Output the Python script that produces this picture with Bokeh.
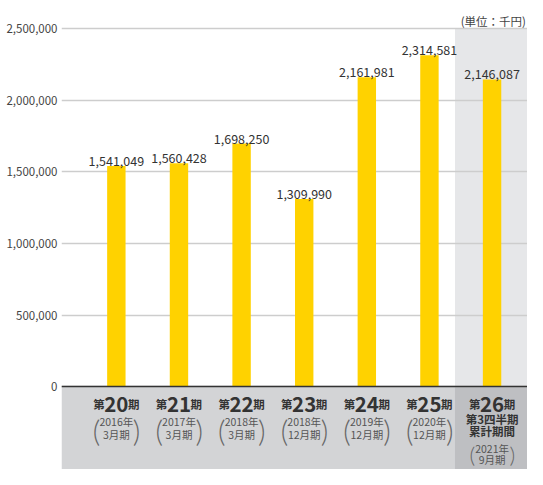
from bokeh.plotting import figure
from bokeh.models import ColumnDataSource, Range1d, FixedTicker, NumeralTickFormatter, Span
from bokeh.core.properties import value
from bokeh.embed import file_html
from bokeh.resources import INLINE

# ---- data ----
period_nums = ["20", "21", "22", "23", "24", "25", "26"]
extra_lines = [[], [], [], [], [], [], ["第3四半期", "累計期間"]]
sub_years = ["2016年", "2017年", "2018年", "2018年", "2019年", "2020年", "2021年"]
sub_months = ["3月期", "3月期", "3月期", "12月期", "12月期", "12月期", "9月期"]
sales = [1541049, 1560428, 1698250, 1309990, 2161981, 2314581, 2146087]
y_ticks = [0, 500000, 1000000, 1500000, 2000000, 2500000]
unit_label = "(単位：千円)"

F = "Noto Sans CJK JP"
YELLOW = "#FFD200"
DARK = "#333333"
SUB = "#555555"

xs = list(range(len(period_nums)))
x_start, x_end = -0.876, 6.566
y_start, y_end = -579200, 2697800
hl_left = xs[-1] - 0.592  # highlighted (latest) column

p = figure(width=527, height=469, output_backend="svg", toolbar_location=None,
           x_range=Range1d(x_start, x_end), y_range=Range1d(y_start, y_end),
           x_axis_location=None, min_border_left=61, min_border_right=0,
           min_border_top=0, min_border_bottom=0)
p.outline_line_color = None
p.background_fill_color = "white"
p.border_fill_color = "white"

# backgrounds
p.quad(left=[hl_left], right=[x_end], bottom=[0], top=[y_ticks[-1]],
       fill_color="#E6E7E9", line_color=None, level="image")
p.quad(left=[x_start], right=[x_end], bottom=[y_start], top=[0],
       fill_color="#D3D4D6", line_color=None, level="image")
p.quad(left=[hl_left], right=[x_end], bottom=[y_start], top=[0],
       fill_color="#BEBFC2", line_color=None, level="image")

# axis and grid
yax = p.yaxis[0]
yax.ticker = FixedTicker(ticks=y_ticks)
yax.formatter = NumeralTickFormatter(format="0,0")
yax.axis_line_color = None
yax.major_tick_line_color = None
yax.minor_tick_line_color = None
yax.major_tick_in = 0
yax.major_tick_out = 0
yax.major_label_standoff = 4
yax.major_label_text_font = F
yax.major_label_text_font_size = "11.5px"
yax.major_label_text_color = "#444444"
p.xgrid.visible = False
p.ygrid.ticker = FixedTicker(ticks=y_ticks)
p.ygrid.grid_line_color = "#CDCDCD"
p.ygrid.grid_line_width = 1.5
p.add_layout(Span(location=0, dimension="width", line_color=DARK, line_width=1.5))

# bars
src = ColumnDataSource(dict(x=xs, v=sales, lab=[f"{v:,}" for v in sales]))
p.vbar(x="x", top="v", bottom=0, width=0.294, source=src, fill_color=YELLOW, line_color=None)
p.text(x="x", y="v", text="lab", source=src, text_align="center", text_baseline="alphabetic",
       y_offset=-5, text_font=value(F), text_font_size="12.5px", text_color=DARK)

# category labels
zeros = [0] * len(xs)
main_src = ColumnDataSource(dict(x=xs, y=zeros, num=period_nums,
                                 dai=["第"] * len(xs), ki=["期"] * len(xs)))
p.text(x="x", y="y", text="num", source=main_src, text_align="center", y_offset=25.5,
       text_font=value(F), text_font_style="bold", text_font_size="20.5px", text_color=DARK)
p.text(x="x", y="y", text="dai", source=main_src, text_align="right", x_offset=-11.6, y_offset=25.5,
       text_font=value(F), text_font_style="bold", text_font_size="11.5px", text_color=DARK)
p.text(x="x", y="y", text="ki", source=main_src, text_align="left", x_offset=11.6, y_offset=25.5,
       text_font=value(F), text_font_style="bold", text_font_size="11.5px", text_color=DARK)

ex_x, ex_t, ex_off = [], [], []
yr_off, mo_off, par_off, par_size = [], [], [], []
for i, lines in enumerate(extra_lines):
    for j, t in enumerate(lines):
        ex_x.append(xs[i]); ex_t.append(t); ex_off.append(40.3 + 11.6 * j)
    shift = 13.2 * len(lines)
    yr_off.append(42.6 + shift)
    mo_off.append(55.5 + shift - (2.0 if lines else 0))
    par_off.append(43.8 + shift - (2.5 if lines else 0))
    par_size.append("22px" if lines else "29px")
ex_src = ColumnDataSource(dict(x=ex_x, y=[0] * len(ex_x), t=ex_t, off=ex_off))
p.text(x="x", y="y", text="t", source=ex_src, text_align="center", y_offset="off",
       text_font=value(F), text_font_style="bold", text_font_size="11.5px", text_color=DARK)

sub_src = ColumnDataSource(dict(x=xs, y=zeros, yr=sub_years, mo=sub_months,
                                yo=yr_off, mo_o=mo_off, po=par_off, ps=par_size,
                                lp=["("] * len(xs), rp=[")"] * len(xs)))
p.text(x="x", y="y", text="yr", source=sub_src, text_align="center", y_offset="yo",
       text_font=value(F), text_font_size="10.5px", text_color=SUB)
p.text(x="x", y="y", text="mo", source=sub_src, text_align="center", y_offset="mo_o",
       text_font=value(F), text_font_size="10.5px", text_color=SUB)
p.text(x="x", y="y", text="lp", source=sub_src, text_align="center", text_baseline="middle",
       x_offset=-19.8, y_offset="po", text_font=value("Lato Light"), text_font_size="ps",
       text_color="#666666")
p.text(x="x", y="y", text="rp", source=sub_src, text_align="center", text_baseline="middle",
       x_offset=20.2, y_offset="po", text_font=value("Lato Light"), text_font_size="ps",
       text_color="#666666")

# unit label
p.text(x=[x_end], y=[y_ticks[-1]], text=[unit_label], text_align="right", text_baseline="alphabetic",
       x_offset=-1.5, y_offset=-8, text_font=value(F), text_font_size="11.5px", text_color="#444444")

open("out.html", "w").write(file_html(p, INLINE))
